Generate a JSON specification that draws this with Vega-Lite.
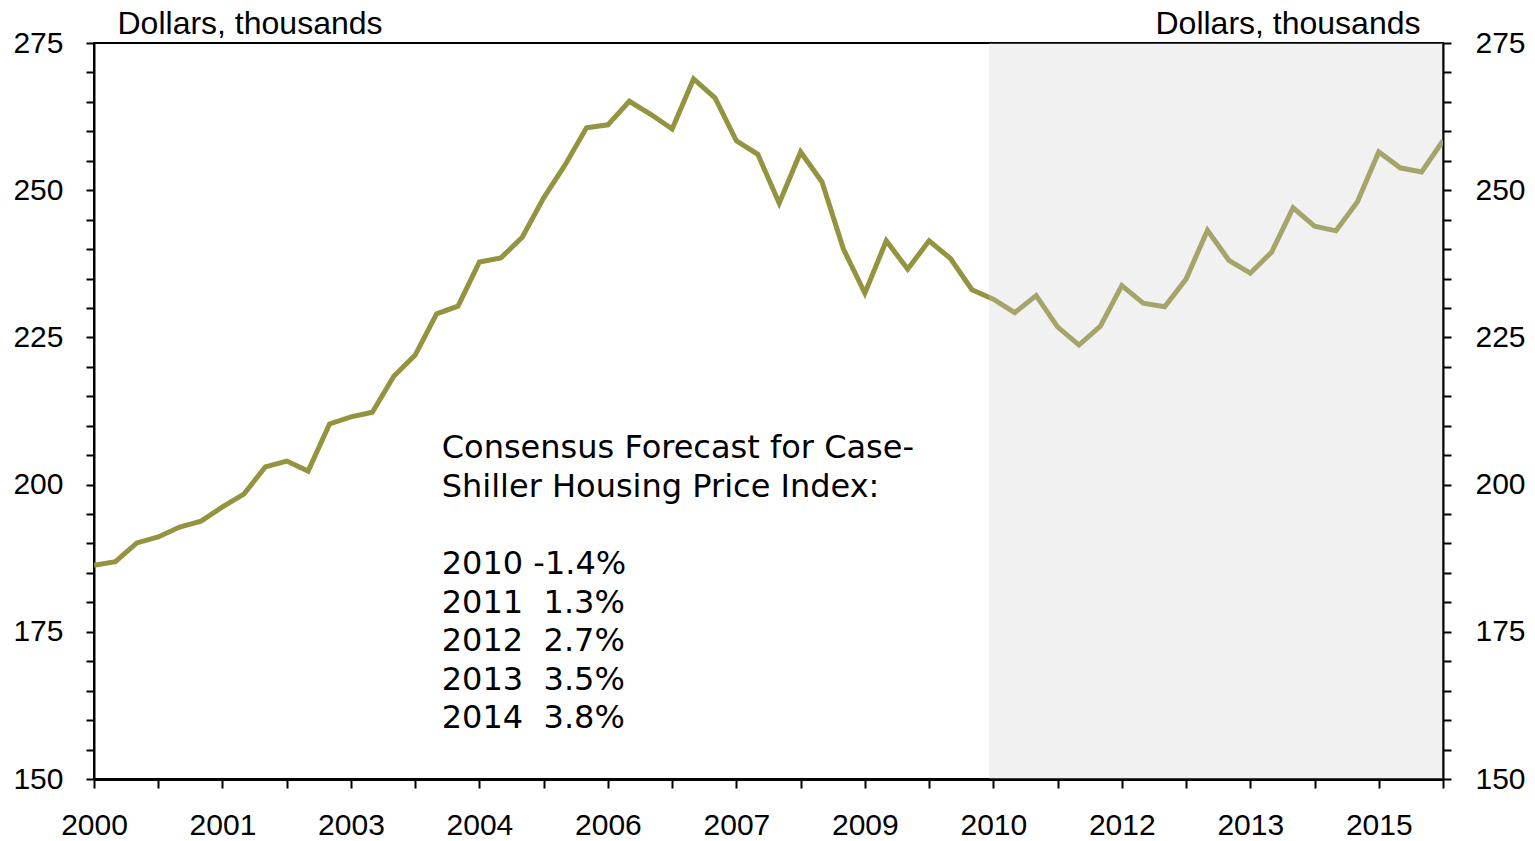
{
  "$schema": "https://vega.github.io/schema/vega-lite/v6.json",
  "autosize": {"type": "none"},
  "width": 1349,
  "height": 736,
  "padding": {"left": 94, "top": 43, "right": 92, "bottom": 62},
  "background": "white",
  "data": {"values": [
    {"t": 2000.00, "v": 186.3}, {"t": 2000.25, "v": 186.9}, {"t": 2000.50, "v": 190.1}, {"t": 2000.75, "v": 191.1},
    {"t": 2001.00, "v": 192.8}, {"t": 2001.25, "v": 193.8}, {"t": 2001.50, "v": 196.2}, {"t": 2001.75, "v": 198.4},
    {"t": 2002.00, "v": 203.0}, {"t": 2002.25, "v": 204.0}, {"t": 2002.50, "v": 202.3}, {"t": 2002.75, "v": 210.3},
    {"t": 2003.00, "v": 211.5}, {"t": 2003.25, "v": 212.3}, {"t": 2003.50, "v": 218.4}, {"t": 2003.75, "v": 222.0},
    {"t": 2004.00, "v": 229.0}, {"t": 2004.25, "v": 230.3}, {"t": 2004.50, "v": 237.8}, {"t": 2004.75, "v": 238.5},
    {"t": 2005.00, "v": 242.0}, {"t": 2005.25, "v": 248.7}, {"t": 2005.50, "v": 254.3}, {"t": 2005.75, "v": 260.6},
    {"t": 2006.00, "v": 261.1}, {"t": 2006.25, "v": 265.1}, {"t": 2006.50, "v": 262.9}, {"t": 2006.75, "v": 260.4},
    {"t": 2007.00, "v": 268.9}, {"t": 2007.25, "v": 265.7}, {"t": 2007.50, "v": 258.4}, {"t": 2007.75, "v": 256.1},
    {"t": 2008.00, "v": 247.8}, {"t": 2008.25, "v": 256.5}, {"t": 2008.50, "v": 251.4}, {"t": 2008.75, "v": 240.0},
    {"t": 2009.00, "v": 232.5}, {"t": 2009.25, "v": 241.4}, {"t": 2009.50, "v": 236.6}, {"t": 2009.75, "v": 241.4},
    {"t": 2010.00, "v": 238.4}, {"t": 2010.25, "v": 233.1}, {"t": 2010.50, "v": 231.5}, {"t": 2010.75, "v": 229.2},
    {"t": 2011.00, "v": 232.1}, {"t": 2011.25, "v": 226.8}, {"t": 2011.50, "v": 223.7}, {"t": 2011.75, "v": 226.9},
    {"t": 2012.00, "v": 233.8}, {"t": 2012.25, "v": 230.8}, {"t": 2012.50, "v": 230.2}, {"t": 2012.75, "v": 234.9},
    {"t": 2013.00, "v": 243.2}, {"t": 2013.25, "v": 238.1}, {"t": 2013.50, "v": 235.9}, {"t": 2013.75, "v": 239.5},
    {"t": 2014.00, "v": 247.0}, {"t": 2014.25, "v": 243.9}, {"t": 2014.50, "v": 243.1}, {"t": 2014.75, "v": 248.0},
    {"t": 2015.00, "v": 256.5}, {"t": 2015.25, "v": 253.8}, {"t": 2015.50, "v": 253.1}, {"t": 2015.75, "v": 258.4}
  ]},
  "layer": [
    {
      "mark": {"type": "line", "color": "#939340", "strokeWidth": 5, "strokeJoin": "miter", "clip": true},
      "encoding": {
        "x": {
          "field": "t", "type": "quantitative",
          "scale": {"domain": [2000, 2015.75], "nice": false, "zero": false},
          "axis": {
            "title": null,
            "values": [2000, 2000.75, 2001.5, 2002.25, 2003, 2003.75, 2004.5, 2005.25, 2006, 2006.75, 2007.5, 2008.25, 2009, 2009.75, 2010.5, 2011.25, 2012, 2012.75, 2013.5, 2014.25, 2015, 2015.75],
            "labelExpr": "round((datum.value-2000)/0.75) % 2 == 0 ? floor(datum.value) + '' : ''",
            "labelOverlap": false,
            "labelFlush": false,
            "tickSize": 9,
            "labelPadding": 22,
            "domainWidth": 3
          }
        },
        "y": {
          "field": "v", "type": "quantitative",
          "scale": {"domain": [150, 275], "nice": false, "zero": false},
          "axis": {
            "orient": "left",
            "values": [150,155,160,165,170,175,180,185,190,195,200,205,210,215,220,225,230,235,240,245,250,255,260,265,270,275],
            "labelExpr": "datum.value % 25 == 0 ? datum.label : ''",
            "labelOverlap": false,
            "tickSize": 8,
            "labelPadding": 23,
            "title": "Dollars, thousands",
            "titleAngle": 0,
            "titleX": 23,
            "titleY": -10,
            "titleAlign": "left",
            "titleBaseline": "alphabetic"
          }
        }
      }
    },
    {
      "data": {"values": [{"start": 2010.45, "end": 2015.75}]},
      "mark": {"type": "rect", "color": "#d0d0d0", "opacity": 0.3},
      "encoding": {
        "x": {"field": "start", "type": "quantitative"},
        "x2": {"field": "end"}
      }
    },
    {
      "data": {"values": [{"t": 2004.06, "v": 204.5}]},
      "mark": {
        "type": "text",
        "text": ["Consensus Forecast for Case-", "Shiller Housing Price Index:"],
        "font": "DejaVu Sans",
        "fontSize": 32,
        "align": "left",
        "baseline": "alphabetic",
        "lineHeight": 38.5,
        "color": "black"
      },
      "encoding": {
        "x": {"field": "t", "type": "quantitative"},
        "y": {
          "field": "v", "type": "quantitative",
          "scale": {"domain": [150, 275], "nice": false, "zero": false},
          "axis": {
            "orient": "right",
            "values": [150,155,160,165,170,175,180,185,190,195,200,205,210,215,220,225,230,235,240,245,250,255,260,265,270,275],
            "labelExpr": "datum.value % 25 == 0 ? datum.label : ''",
            "labelOverlap": false,
            "tickSize": 8,
            "labelPadding": 24,
            "title": "Dollars, thousands",
            "titleAngle": 0,
            "titleX": -23,
            "titleY": -10,
            "titleAlign": "right",
            "titleBaseline": "alphabetic"
          }
        }
      }
    },
    {
      "data": {"values": [{"t": 2004.06, "v": 184.8}]},
      "mark": {
        "type": "text",
        "text": ["2010 -1.4%", "2011\u00a0\u00a01.3%", "2012\u00a0\u00a02.7%", "2013\u00a0\u00a03.5%", "2014\u00a0\u00a03.8%"],
        "font": "DejaVu Sans",
        "fontSize": 32,
        "align": "left",
        "baseline": "alphabetic",
        "lineHeight": 38.5,
        "color": "black"
      },
      "encoding": {
        "x": {"field": "t", "type": "quantitative"},
        "y": {
          "field": "v", "type": "quantitative",
          "scale": {"domain": [150, 275], "nice": false, "zero": false},
          "axis": null
        }
      }
    }
  ],
  "resolve": {"scale": {"y": "independent"}},
  "config": {
    "view": {"stroke": "black", "strokeWidth": 2},
    "axis": {
      "grid": false,
      "domainColor": "black",
      "domainWidth": 2,
      "tickColor": "black",
      "tickWidth": 2,
      "labelFont": "Liberation Sans",
      "labelFontSize": 30,
      "labelColor": "black",
      "titleFont": "Liberation Sans",
      "titleFontSize": 32,
      "titleFontWeight": "normal",
      "titleColor": "black"
    }
  }
}
